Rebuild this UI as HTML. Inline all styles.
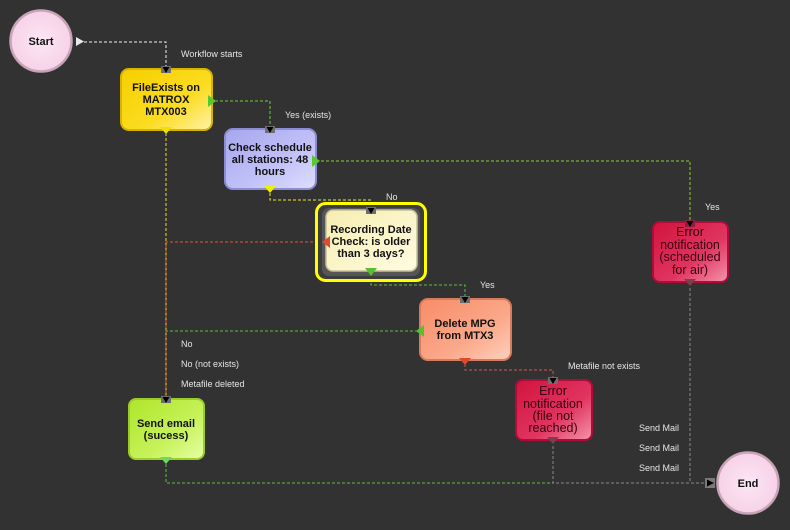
<!DOCTYPE html>
<html><head><meta charset="utf-8"><style>
html,body{margin:0;padding:0;background:#323232;}
svg{display:block;}
text{font-family:"Liberation Sans",sans-serif;}
.n{font-size:11px;font-weight:bold;fill:#111;text-anchor:middle;}
.e{font-size:12.5px;fill:#3a0010;text-anchor:middle;}
.l{font-size:9px;fill:#e6e6e6;}
</style></head><body>
<svg width="790" height="530" viewBox="0 0 790 530" xmlns="http://www.w3.org/2000/svg">
<defs>
<linearGradient id="gy" x1="0" y1="0" x2="1" y2="1"><stop offset="0" stop-color="#f6cf00"/><stop offset="0.6" stop-color="#fbdc20"/><stop offset="1" stop-color="#fff2a8"/></linearGradient>
<linearGradient id="gb" x1="0" y1="0" x2="1" y2="1"><stop offset="0" stop-color="#a6a6ee"/><stop offset="0.6" stop-color="#c2c2f8"/><stop offset="1" stop-color="#dedeff"/></linearGradient>
<linearGradient id="gr" x1="0" y1="0" x2="1" y2="1"><stop offset="0" stop-color="#f6eeb0"/><stop offset="1" stop-color="#fffbe2"/></linearGradient>
<linearGradient id="gs" x1="0" y1="0" x2="1" y2="1"><stop offset="0" stop-color="#f88c68"/><stop offset="0.6" stop-color="#faa88a"/><stop offset="1" stop-color="#ffd0bc"/></linearGradient>
<linearGradient id="gc" x1="0" y1="0" x2="1" y2="1"><stop offset="0" stop-color="#d2123e"/><stop offset="0.6" stop-color="#e03560"/><stop offset="1" stop-color="#f495ac"/></linearGradient>
<linearGradient id="gg" x1="0" y1="0" x2="1" y2="1"><stop offset="0" stop-color="#aee62a"/><stop offset="0.6" stop-color="#c6f25a"/><stop offset="1" stop-color="#e6ffa6"/></linearGradient>
<radialGradient id="gp" cx="0.5" cy="0.5" r="0.5"><stop offset="0" stop-color="#fde6f4"/><stop offset="1" stop-color="#f6d2e8"/></radialGradient>
</defs>

<!-- connectors -->
<g fill="none" stroke-width="1" stroke-dasharray="3,2">
<polyline points="84,42 166,42 166,66" stroke="#f0f0f0"/>
<polyline points="215,101 270,101 270,126" stroke="#6cd02c"/>
<polyline points="316,161 690,161 690,220" stroke="#8ed02c"/>
<polyline points="270,193 270,200 371,200 371,207" stroke="#e8e830"/>
<polyline points="371,278 371,285 465,285 465,296" stroke="#5cc040"/>
<polyline points="465,364 465,370 553,370 553,378" stroke="#d05a48"/>
<polyline points="166,133 166,398" stroke="#e8e030"/>
<polyline points="323,242 166,242 166,398" stroke="#e0582c"/>
<polyline points="418,331 166,331" stroke="#5cc040"/>
<polyline points="166,464 166,483 553,483" stroke="#5cc040"/>
<polyline points="553,446 553,483 706,483" stroke="#8a8a8a"/>
<polyline points="690,288 690,483" stroke="#8a8a8a"/>
</g>

<!-- Start -->
<circle cx="41" cy="41" r="30.5" fill="url(#gp)" stroke="#c8a4b8" stroke-width="2.5"/>
<text x="41" y="45" class="n" style="fill:#111">Start</text>
<polygon points="76,37 84,41.5 76,46" fill="#e8e8e8"/>

<!-- End -->
<circle cx="748" cy="483" r="30.5" fill="url(#gp)" stroke="#c8a4b8" stroke-width="2.5"/>
<text x="748" y="487" class="n">End</text>
<rect x="705" y="478" width="10" height="10" fill="#7a7a7a"/>
<polygon points="707,479.5 714,483 707,486.5" fill="#000"/>

<!-- FileExists -->
<rect x="121" y="69" width="91" height="61" rx="8" fill="url(#gy)" stroke="#d8b400" stroke-width="2"/>
<text class="n" x="166" y="91">FileExists on</text>
<text class="n" x="166" y="103">MATROX</text>
<text class="n" x="166" y="115">MTX003</text>

<!-- Check schedule -->
<rect x="225" y="129" width="91" height="60" rx="8" fill="url(#gb)" stroke="#8c8cd2" stroke-width="2"/>
<text class="n" x="270" y="151">Check schedule</text>
<text class="n" x="270" y="163">all stations: 48</text>
<text class="n" x="270" y="175">hours</text>

<!-- Recording -->
<rect x="316.5" y="203.5" width="109" height="77" rx="9" fill="#3c3c3c" stroke="#ffff00" stroke-width="3"/>
<rect x="322" y="208" width="98" height="68" rx="7" fill="#555"/>
<rect x="326" y="210" width="91" height="61" rx="7" fill="url(#gr)" stroke="#c8c098" stroke-width="1.5"/>
<text class="n" x="371" y="233">Recording Date</text>
<text class="n" x="371" y="245">Check: is older</text>
<text class="n" x="371" y="257">than 3 days?</text>

<!-- Delete -->
<rect x="420" y="299" width="91" height="61" rx="8" fill="url(#gs)" stroke="#d47c5c" stroke-width="2"/>
<text class="n" x="465" y="327">Delete MPG</text>
<text class="n" x="465" y="339">from MTX3</text>

<!-- Error scheduled -->
<rect x="653" y="222" width="75" height="60" rx="7" fill="url(#gc)" stroke="#b00c3a" stroke-width="2"/>
<text class="e" x="690" y="236">Error</text>
<text class="e" x="690" y="249">notification</text>
<text class="e" x="690" y="261">(scheduled</text>
<text class="e" x="690" y="274">for air)</text>

<!-- Error file -->
<rect x="516" y="380" width="76" height="60" rx="7" fill="url(#gc)" stroke="#b00c3a" stroke-width="2"/>
<text class="e" x="553" y="395">Error</text>
<text class="e" x="553" y="408">notification</text>
<text class="e" x="553" y="420">(file not</text>
<text class="e" x="553" y="432">reached)</text>

<!-- Send email -->
<rect x="129" y="399" width="75" height="60" rx="7" fill="url(#gg)" stroke="#9ccc2a" stroke-width="2"/>
<text class="n" x="166" y="427">Send email</text>
<text class="n" x="166" y="439">(sucess)</text>

<!-- input ports -->
<g fill="#6e6e6e">
<rect x="161" y="66" width="10" height="7"/>
<rect x="265" y="126" width="10" height="7"/>
<rect x="366" y="207" width="10" height="7"/>
<rect x="460" y="296" width="10" height="7"/>
<rect x="548" y="377" width="10" height="7"/>
<rect x="685" y="220" width="10" height="7" fill="#8a2040"/>
<rect x="161" y="396" width="10" height="7"/>
</g>
<g fill="#000">
<polygon points="162.5,67 169.5,67 166,73"/>
<polygon points="266.5,127 273.5,127 270,133"/>
<polygon points="367.5,208 374.5,208 371,214"/>
<polygon points="461.5,297 468.5,297 465,303"/>
<polygon points="549.5,378 556.5,378 553,384"/>
<polygon points="686.5,221 693.5,221 690,227"/>
<polygon points="162.5,397 169.5,397 166,403"/>
</g>

<!-- output ports -->
<polygon points="160,127 172,127 166,134" fill="#f0e000"/>
<polygon points="208,95 216,101 208,107" fill="#58c830"/>
<polygon points="312,155 320,161 312,167" fill="#58c830"/>
<polygon points="264,186 276,186 270,193" fill="#f0f000"/>
<polygon points="330,236 322,242 330,248" fill="#e04a30"/>
<polygon points="365,268 377,268 371,276" fill="#58c030"/>
<polygon points="424,325 416,331 424,337" fill="#58c030"/>
<polygon points="459,358 471,358 465,365" fill="#e04a2c"/>
<polygon points="547,437 559,437 553,444" fill="#7a4050"/>
<polygon points="684,279 696,279 690,286" fill="#7a4050"/>
<polygon points="160,457 172,457 166,464" fill="#70d860"/>

<!-- labels -->
<text class="l" x="181" y="57">Workflow starts</text>
<text class="l" x="285" y="118">Yes (exists)</text>
<text class="l" x="386" y="200">No</text>
<text class="l" x="705" y="210">Yes</text>
<text class="l" x="480" y="288">Yes</text>
<text class="l" x="568" y="369">Metafile not exists</text>
<text class="l" x="181" y="347">No</text>
<text class="l" x="181" y="367">No (not exists)</text>
<text class="l" x="181" y="387">Metafile deleted</text>
<text class="l" x="639" y="431">Send Mail</text>
<text class="l" x="639" y="451">Send Mail</text>
<text class="l" x="639" y="471">Send Mail</text>
</svg>
</body></html>
